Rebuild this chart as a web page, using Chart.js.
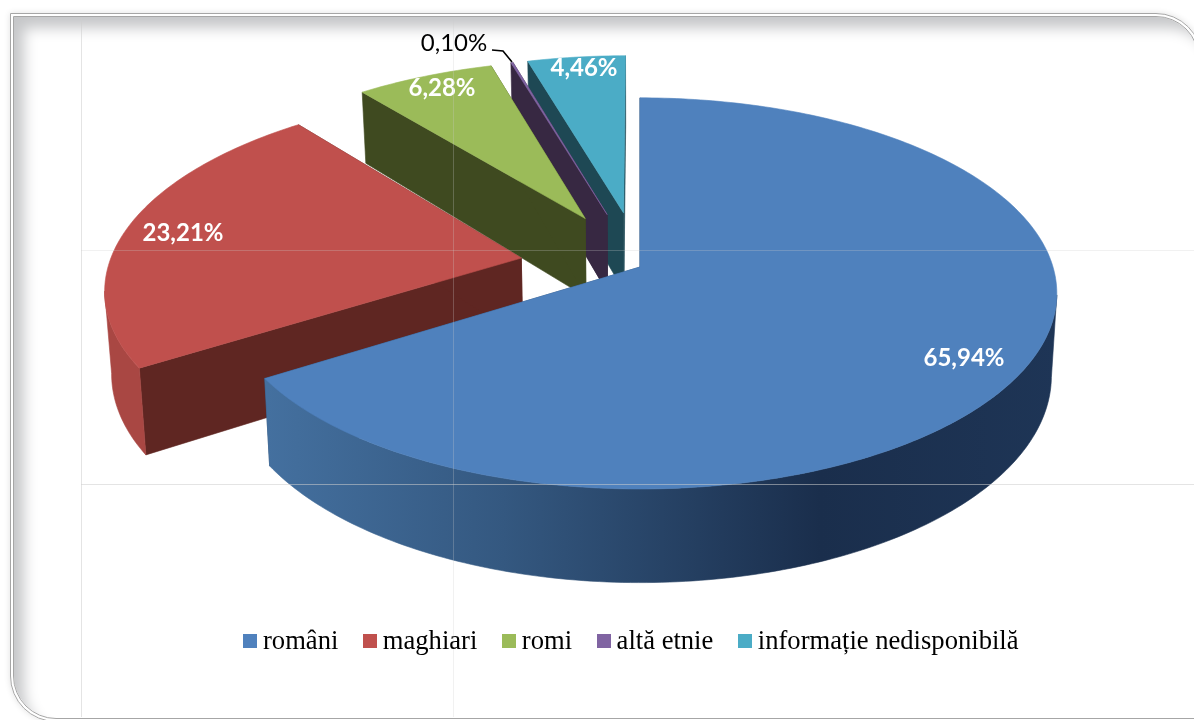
<!DOCTYPE html>
<html>
<head>
<meta charset="utf-8">
<script src="https://cdn.jsdelivr.net/npm/chart.js@4/dist/chart.umd.min.js"></script>
<style>
  html, body { margin: 0; padding: 0; background: #fff; overflow: hidden; }
  #page { position: relative; width: 1194px; height: 720px; overflow: hidden; }
  #frame {
    position: absolute; left: 10px; top: 13px; width: 1184px; height: 701px;
    border: 4px double #a6a6a6;
    border-radius: 0 46px 0 46px;
    box-shadow: inset 13px 14px 14px -3px #c6c7c9, 0 0 6px rgba(0,0,0,.12);
  }
  canvas { position: absolute; left: 0; top: 0; }
  .grid { position: absolute; background: rgba(205,205,205,.55); }
  #legend {
    position: absolute; left: 243px; top: 625px; display: flex; align-items: center;
    font: 26.6px "Liberation Serif", serif; color: #000; white-space: nowrap;
  }
  #legend span.item { display: flex; align-items: center; margin-right: 24.5px; }
  #legend i { display: inline-block; width: 14px; height: 14px; margin-right: 6px; }
</style>
</head>
<body>
<div id="page">
  <div id="frame"></div>
  <canvas id="myChart" width="1194" height="720"></canvas>
  <div class="grid" style="left:81px;top:18px;width:1px;height:699px"></div>
  <div class="grid" style="left:453px;top:18px;width:1px;height:699px;opacity:.5"></div>
  <div class="grid" style="left:81px;top:250px;width:1113px;height:1px;opacity:.5"></div>
  <div class="grid" style="left:81px;top:484px;width:1113px;height:1px"></div>
  <div id="legend"></div>
</div>
<script>
var categories = ["români", "maghiari", "romi", "altă etnie", "informație nedisponibilă"];
var shares = [65.94, 23.21, 6.28, 0.10, 4.46];
var topColors = ["#4f81bd", "#c0504d", "#9bbb59", "#8064a2", "#4bacc6"];
var wallColors = ["#2a4a70", "#5f2622", "#3f4a20", "#372842", "#1e4854"];

// look of the 3d pie, fitted to the picture
var view = { cx: 640, cy: 267, rx: 413, ry: 192, persp: 0.135, depth: 81, shrink: 0.013 };
var explode = [0, 0.293, 0.295, 0.295, 0.295];
var drawOrder = [4, 3, 2, 1, 0];
var labelSpots = [[964, 358], [183, 233], [442, 88], [454, 43], [584, 68]];
var labelInk = ["#fff", "#fff", "#fff", "#000", "#fff"];

function project(u, v, z) {
    var w = 1 / (1 - view.persp * v);
    var s = 1 - view.shrink * z;
    return [view.cx + view.rx * u * w * s, view.cy + (view.ry * v + view.depth * z) * w];
}

function rimFill(ctx, i) {
    if (i === 0) {
        var g = ctx.createLinearGradient(267, 0, 1057, 0);
        g.addColorStop(0, "#44709f");
        g.addColorStop(0.3, "#345880");
        g.addColorStop(0.7, "#1a2e4c");
        g.addColorStop(1, "#1e3556");
        return g;
    }
    if (i === 1) return "#a94743";
    return wallColors[i];
}

function polygon(ctx, pts, fill) {
    ctx.beginPath();
    pts.forEach(function (p, n) {
        if (n === 0) ctx.moveTo(p[0], p[1]); else ctx.lineTo(p[0], p[1]);
    });
    ctx.closePath();
    ctx.fillStyle = fill;
    ctx.strokeStyle = fill;
    ctx.lineWidth = 0.6;
    ctx.fill();
    ctx.stroke();
}

var pie3d = {
    id: "pie3d",
    beforeDatasetsDraw: function (chart) {
        var ctx = chart.ctx;
        var arcs = chart.getDatasetMeta(0).data;
        drawOrder.forEach(function (i) {
            var a0 = arcs[i].startAngle, a1 = arcs[i].endAngle;
            var mid = (a0 + a1) / 2;
            var ox = explode[i] * Math.cos(mid), oy = explode[i] * Math.sin(mid);
            var top = [], rim = [];
            var steps = Math.max(2, Math.ceil((a1 - a0) * 60));
            for (var k = 0; k <= steps; k++) {
                var a = a0 + (a1 - a0) * k / steps;
                top.push(project(ox + Math.cos(a), oy + Math.sin(a), 0));
                rim.push(project(ox + Math.cos(a), oy + Math.sin(a), 1));
            }
            var apex = project(ox, oy, 0), apexLow = project(ox, oy, 1);
            polygon(ctx, [apex, top[0], rim[0], apexLow], wallColors[i]);
            polygon(ctx, [apex, top[steps], rim[steps], apexLow], wallColors[i]);
            // outer wall: only the part that faces the viewer
            var upper = [], lower = [];
            for (var m = 0; m < steps; m++) {
                if (top[m + 1][0] < top[m][0]) {
                    if (!upper.length) { upper.push(top[m]); lower.push(rim[m]); }
                    upper.push(top[m + 1]);
                    lower.push(rim[m + 1]);
                }
            }
            if (upper.length) polygon(ctx, upper.concat(lower.reverse()), rimFill(ctx, i));
            polygon(ctx, [apex].concat(top), topColors[i]);
        });
        return false;
    },
    afterDraw: function (chart) {
        var ctx = chart.ctx;
        ctx.save();
        // leader of the tiny slice
        ctx.strokeStyle = "#000";
        ctx.lineWidth = 1.6;
        ctx.beginPath();
        ctx.moveTo(492, 50);
        ctx.lineTo(503, 51);
        ctx.lineTo(512, 62);
        ctx.stroke();
        ctx.textAlign = "center";
        ctx.textBaseline = "middle";
        shares.forEach(function (v, i) {
            ctx.font = (i === 3 ? "400" : "700") + " 24px Lato, sans-serif";
            ctx.fillStyle = labelInk[i];
            ctx.fillText(v.toFixed(2).replace(".", ",") + "%", labelSpots[i][0], labelSpots[i][1]);
        });
        ctx.restore();
    }
};

new Chart("myChart", {
    type: "pie",
    data: {
        labels: categories,
        datasets: [{ data: shares, backgroundColor: topColors, borderWidth: 0 }]
    },
    plugins: [pie3d],
    options: {
        responsive: false,
        animation: false,
        plugins: { legend: { display: false }, tooltip: { enabled: false } }
    }
});

var legend = document.getElementById("legend");
categories.forEach(function (name, i) {
    var item = document.createElement("span");
    item.className = "item";
    var box = document.createElement("i");
    box.style.background = topColors[i];
    item.appendChild(box);
    item.appendChild(document.createTextNode(name));
    legend.appendChild(item);
});
</script>
</body>
</html>
